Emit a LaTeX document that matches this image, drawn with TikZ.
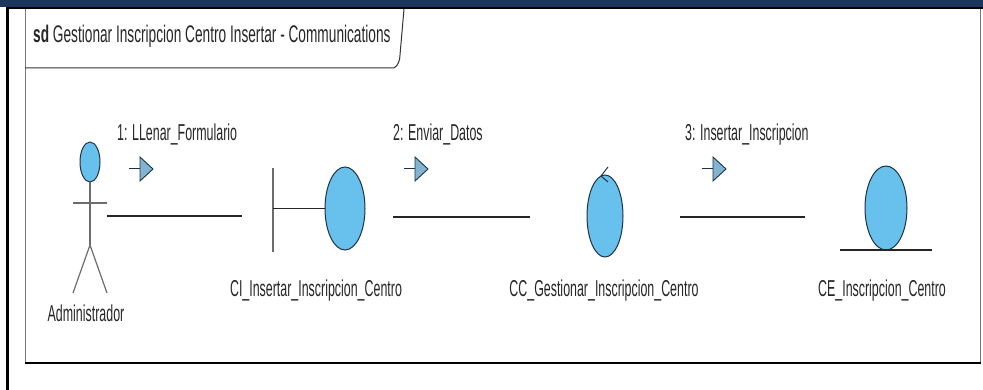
\documentclass[tikz,border=0pt]{standalone}
\usepackage{fontspec}
\newfontfamily\nf[FakeStretch=0.54]{Liberation Sans}
\newfontfamily\tf[FakeStretch=0.57]{Liberation Sans}
\usetikzlibrary{shapes.geometric}
\definecolor{navy}{RGB}{27,54,93}
\definecolor{symfill}{RGB}{104,192,236}
\definecolor{symline}{RGB}{30,50,70}
\definecolor{arrfill}{RGB}{130,180,210}
\definecolor{framegray}{RGB}{120,120,120}
\tikzset{
  lbl/.style={inner sep=0pt, font=\nf\fontsize{23}{26}\selectfont, text=black!85},
  ttl/.style={inner sep=0pt, font=\tf\fontsize{24}{27}\selectfont, text=black!85},
  conn/.style={line width=1.3pt, black!85},
  sym/.style={ellipse, draw=symline, line width=1pt, fill=symfill, inner sep=0pt},
  stick/.style={line width=1.2pt, gray!85!black},
  msgarrow/.pic={
    \draw[line width=1pt, symline] (-11,0) -- (0,0);
    \filldraw[line width=0.9pt, draw=symline, fill=arrfill] (0,-12) -- (13,0) -- (0,12) -- cycle;
  }
}
\begin{document}
\begin{tikzpicture}[x=1pt,y=-1pt]
\useasboundingbox (0,0) rectangle (983,390);
% window chrome
\fill[navy] (0,0) rectangle (983,7);
\fill[black] (6,7) rectangle (983,9);
\fill[black] (6,7) rectangle (8.5,390);
% diagram frame
\draw[framegray, line width=1pt] (25,9) -- (25,362) (980,9) -- (980,362);
\draw[black, line width=2pt] (25,362.5) -- (981,362.5);
% title tab
\draw[black!80, line width=1pt] (25,68) -- (394,68) .. controls (398,66) and (400,60) .. (400,55) -- (404,9);
\node[ttl, anchor=base west] (title) at (33,43) {\textbf{sd} Gestionar Inscripcion Centro Insertar - Communications};
% actor
\node[sym, minimum width=20pt, minimum height=40pt] (head) at (90,162) {};
\coordinate (hip) at (90,245);
\draw[stick] (head.south) -- (hip);
\draw[stick] (73,203) -- (107,203);
\draw[stick] (hip) -- (73,293) (hip) -- (107,293);
\node[lbl, anchor=base] (actlbl) at (86,321) {Administrador};
% boundary
\node[sym, minimum width=40pt, minimum height=83pt] (bnd) at (345,208.5) {};
\draw[line width=1.2pt, gray!85!black] (273,168) -- (273,252);
\draw[conn] (273,208.5) -- (bnd.west);
\node[lbl, anchor=base] (bndlbl) at (316,296) {CI\_Insertar\_Inscripcion\_Centro};
% control
\node[sym, minimum width=36pt, minimum height=82pt] (ctl) at (605,216) {};
\draw[line width=1pt, symline] (608,167) -- (601,176) -- (608,182);
\node[lbl, anchor=base] (ctllbl) at (604,296) {CC\_Gestionar\_Inscripcion\_Centro};
% entity
\node[sym, minimum width=42pt, minimum height=84pt] (ent) at (886,208) {};
\draw[conn] (840,250) -- (932,250);
\node[lbl, anchor=base] (entlbl) at (882,296) {CE\_Inscripcion\_Centro};
% connectors
\coordinate (c1a) at (107,216); \coordinate (c1b) at (242,216);
\coordinate (c2a) at (393,217); \coordinate (c2b) at (530,217);
\coordinate (c3a) at (680,217); \coordinate (c3b) at (805,217);
\draw[conn] (c1a) -- (c1b);
\draw[conn] (c2a) -- (c2b);
\draw[conn] (c3a) -- (c3b);
% messages
\node[lbl, anchor=base west] (m1) at (117,141) {1: LLenar\_Formulario};
\pic at (140,169) {msgarrow};
\node[lbl, anchor=base west] (m2) at (393,141) {2: Enviar\_Datos};
\pic at (415,169) {msgarrow};
\node[lbl, anchor=base west] (m3) at (685,141) {3: Insertar\_Inscripcion};
\pic at (713,169) {msgarrow};
\end{tikzpicture}
\end{document}
